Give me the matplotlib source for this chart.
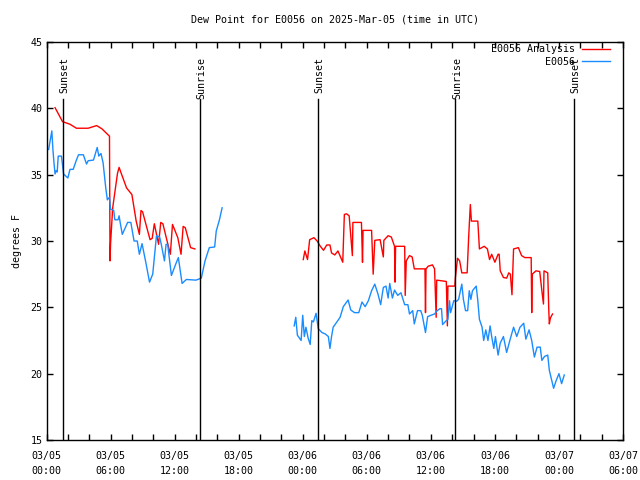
import numpy as np
import matplotlib
matplotlib.use("Agg")
from matplotlib import pyplot as plt

# hours since 03/05 00:00 UTC, values in degrees F
ana_h1 = [0.8, 1.5, 2.2, 2.8, 3.9, 4.7, 5.2, 5.9, 5.95, 6.0, 6.2, 6.65, 6.8, 7.0, 7.5, 8.0,
          8.4, 8.7, 8.85, 9.0, 9.7, 9.9, 10.1, 10.5, 10.7, 10.9, 11.6, 11.8, 12.3, 12.6,
          12.8, 13.0, 13.5, 13.9]
ana_v1 = [40.05, 39.0, 38.8, 38.5, 38.5, 38.7, 38.45, 37.9, 28.5, 29.8, 32.5, 35.1, 35.55, 35.1,
          34.0, 33.5, 31.5, 30.5, 32.3, 32.2, 30.1, 30.2, 31.3, 29.75, 31.4, 31.3, 29.0,
          31.25, 30.25, 29.0, 31.1, 31.0, 29.5, 29.4]

ana_h2 = [24.05, 24.2, 24.45, 24.65, 25.05, 25.35, 25.65, 25.95, 26.25, 26.55,
          26.7, 27.0, 27.3, 27.75, 27.9, 28.1, 28.35, 28.65, 28.7, 29.5,
          29.6, 29.65, 30.45, 30.6, 30.75, 31.25, 31.55, 31.6, 32.0, 32.3,
          32.6, 32.65, 32.7, 33.55, 33.6, 33.7, 34.0, 34.25, 34.45, 35.45,
          35.5, 35.55, 35.75, 36.15, 36.35, 36.5, 36.55, 37.45, 37.55, 37.6,
          38.25, 38.3, 38.5, 38.7, 38.9, 39.4, 39.55, 39.7, 39.8, 40.4,
          40.55, 41.0, 41.3, 41.5, 41.7, 42.0, 42.3, 42.4, 42.5, 42.8,
          43.1, 43.3, 43.45, 43.6, 43.75, 44.2, 44.5, 44.8, 45.4, 45.45,
          45.5, 45.85, 46.2, 46.4, 46.55, 46.6, 46.95, 47.05, 47.1, 47.2,
          47.4]
ana_v2 = [28.6, 29.25, 28.6, 30.1, 30.25, 30.0, 29.6, 29.3, 29.7, 29.7,
          29.1, 28.95, 29.25, 28.4, 32.0, 32.05, 31.9, 28.9, 31.4, 31.4,
          28.4, 30.8, 30.8, 27.5, 30.05, 30.1, 28.8, 30.05, 30.4, 30.3,
          29.6, 26.9, 29.6, 29.6, 25.9, 28.5, 28.9, 28.8, 27.9, 27.9,
          24.6, 27.9, 28.1, 28.2, 27.9, 24.25, 27.05, 26.95, 23.6, 26.6,
          26.6, 27.25, 28.7, 28.5, 27.6, 27.6, 30.4, 32.75, 31.5, 31.5,
          29.4, 29.6, 29.4, 28.6, 29.0, 28.4, 29.0, 29.0, 27.75, 27.25,
          27.2, 27.6, 27.5, 25.95, 29.4, 29.5, 28.9, 28.75, 28.75, 24.6,
          27.5, 27.75, 27.7, 26.25, 25.25, 27.75, 27.6, 24.75, 23.75, 24.2,
          24.5]

obs_h1 = [0.2, 0.5, 0.6, 0.7, 0.8, 0.9, 1.0, 1.1, 1.4, 1.6, 2.0, 2.2, 2.5, 2.8, 3.0, 3.45,
          3.75, 3.9, 4.4, 4.75, 4.9, 5.1, 5.3, 5.55, 5.7, 5.9, 6.0, 6.3, 6.4, 6.7, 6.8, 6.9,
          7.1, 7.6, 7.9, 8.2, 8.5, 8.7, 8.95, 9.3, 9.65, 9.95, 10.3, 10.6, 10.75, 11.05,
          11.2, 11.35, 11.7, 12.1, 12.35, 12.7, 13.1, 14.0, 14.5, 14.85, 15.25, 15.75,
          15.9, 16.2, 16.45]
obs_v1 = [36.9, 38.3, 36.9, 35.9, 35.05, 35.3, 35.2, 36.4, 36.4, 35.05, 34.75, 35.4, 35.4,
          36.1, 36.5, 36.5, 35.8, 36.05, 36.1, 37.05, 36.4, 36.6, 35.9, 34.0, 33.1, 33.3,
          32.4, 32.3, 31.6, 31.6, 31.9, 31.4, 30.5, 31.4, 31.4, 30.0, 30.0, 29.0, 29.8,
          28.4, 26.9, 27.5, 30.4, 30.3, 29.75, 28.5, 29.75, 29.75, 27.4, 28.25, 28.75,
          26.8, 27.1, 27.05, 27.2, 28.5, 29.5, 29.55, 30.75, 31.6, 32.5]

obs_h2 = [23.2, 23.35, 23.5, 23.85, 24.0, 24.15, 24.3, 24.5, 24.7, 24.85, 25.0, 25.25, 25.45,
          25.8, 26.1, 26.4, 26.55, 26.7, 26.85, 27.2, 27.5, 27.8, 28.25, 28.5, 28.85, 29.25,
          29.55, 29.85, 30.15, 30.45, 30.75, 31.05, 31.3, 31.55, 31.8, 32.0, 32.15, 32.4,
          32.6, 32.9, 33.2, 33.55, 33.85, 34.0, 34.3, 34.45, 34.75, 35.05, 35.2, 35.5,
          35.7, 36.0, 36.35, 36.6, 36.85, 37.0, 37.1, 37.45, 37.6, 37.75, 37.85, 38.15,
          38.4, 38.6, 38.9, 39.05, 39.25, 39.45, 39.6, 39.75, 39.9, 40.25, 40.4, 40.55,
          40.8, 40.95, 41.15, 41.35, 41.55, 41.7, 41.9, 42.05, 42.3, 42.5, 42.8, 43.1,
          43.4, 43.75, 44.05, 44.35, 44.7, 44.9, 45.2, 45.45, 45.7, 45.95, 46.25, 46.4,
          46.65, 46.95, 47.1, 47.5, 47.75, 48.0, 48.25, 48.5]
obs_v2 = [23.6, 24.25, 22.9, 22.5, 24.4, 22.8, 23.5, 22.7, 22.2, 24.0, 23.9, 24.55, 23.4,
          23.1, 23.0, 22.8, 21.9, 22.8, 23.5, 23.9, 24.25, 25.05, 25.55, 24.8, 24.6, 24.6,
          25.4, 25.05, 25.5, 26.25, 26.75, 26.0, 25.2, 26.5, 26.6, 25.7, 26.8, 25.7, 26.3,
          25.9, 26.1, 25.2, 25.2, 24.5, 24.75, 23.75, 24.75, 24.75, 24.4, 23.1, 24.3, 24.4,
          24.5, 24.75, 24.9, 24.9, 23.7, 24.0, 24.1, 25.5, 24.6, 25.5, 25.45, 25.6, 26.75,
          25.6, 24.75, 24.75, 26.25, 25.6, 26.25, 26.6, 25.5, 24.1, 23.5, 22.5, 23.3, 22.5,
          23.6, 22.8, 21.9, 22.8, 21.4, 22.3, 22.8, 21.6, 22.5, 23.5, 22.8, 23.5, 23.8,
          22.6, 23.3, 22.5, 21.25, 22.0, 22.0, 21.0, 21.3, 21.4, 20.25, 18.9, 19.5, 20.0,
          19.25, 19.9]

sun_h = [1.55, 14.4, 25.45, 38.3, 49.4]
sun_labels = ["Sunset", "Sunrise", "Sunset", "Sunrise", "Sunset"]

tick_h = np.arange(0, 55, 6)
tick_labels = ["03/05\n00:00", "03/05\n06:00", "03/05\n12:00", "03/05\n18:00",
               "03/06\n00:00", "03/06\n06:00", "03/06\n12:00", "03/06\n18:00",
               "03/07\n00:00", "03/07\n06:00"]

plt.rcParams['font.family'] = 'DejaVu Sans Mono'
plt.rcParams['font.size'] = 7.2

fig = plt.figure(figsize=(6.4, 4.8), dpi=100)
ax = fig.add_axes([46.5 / 640, 40 / 480, (623 - 46.5) / 640, (439 - 41) / 480])

red = "#ff0000"
blue = "#1a8cff"
ax.plot(ana_h1, ana_v1, color=red, lw=1, label="E0056 Analysis")
ax.plot(ana_h2, ana_v2, color=red, lw=1)
ax.plot(obs_h1, obs_v1, color=blue, lw=1, label="E0056")
ax.plot(obs_h2, obs_v2, color=blue, lw=1)

for h, lab in zip(sun_h, sun_labels):
    ax.plot([h, h], [15, 40.7], color="black", lw=1)
    ax.text(h + 0.14, 43.9, lab, rotation=90, ha="center", va="top")

ax.set_xlim(0, 54)
ax.set_ylim(15, 45)
ax.set_xticks(tick_h)
ax.set_xticklabels(tick_labels, linespacing=1.6)
ax.set_xticks(np.arange(0, 55, 2), minor=True)
ax.set_yticks(np.arange(15, 46, 5))
ax.tick_params(which="both", direction="in", top=True, right=True, length=4, width=1)
ax.tick_params(axis="x", pad=8)
ax.tick_params(axis="y", pad=3)
for s in ax.spines.values():
    s.set_linewidth(1)

ax.set_ylabel("degrees F", labelpad=6)
fig.text((46.5 + 623) / 2 / 640, 1 - 19 / 480, "Dew Point for E0056 on 2025-Mar-05 (time in UTC)",
         ha="center", va="center")

ax.legend(loc="upper right", frameon=False, markerfirst=False, handlelength=2.8,
          borderaxespad=0.0, labelspacing=0.25, handletextpad=0.7,
          bbox_to_anchor=(0.985, 1.005))

fig.savefig("out.png", dpi=100)
